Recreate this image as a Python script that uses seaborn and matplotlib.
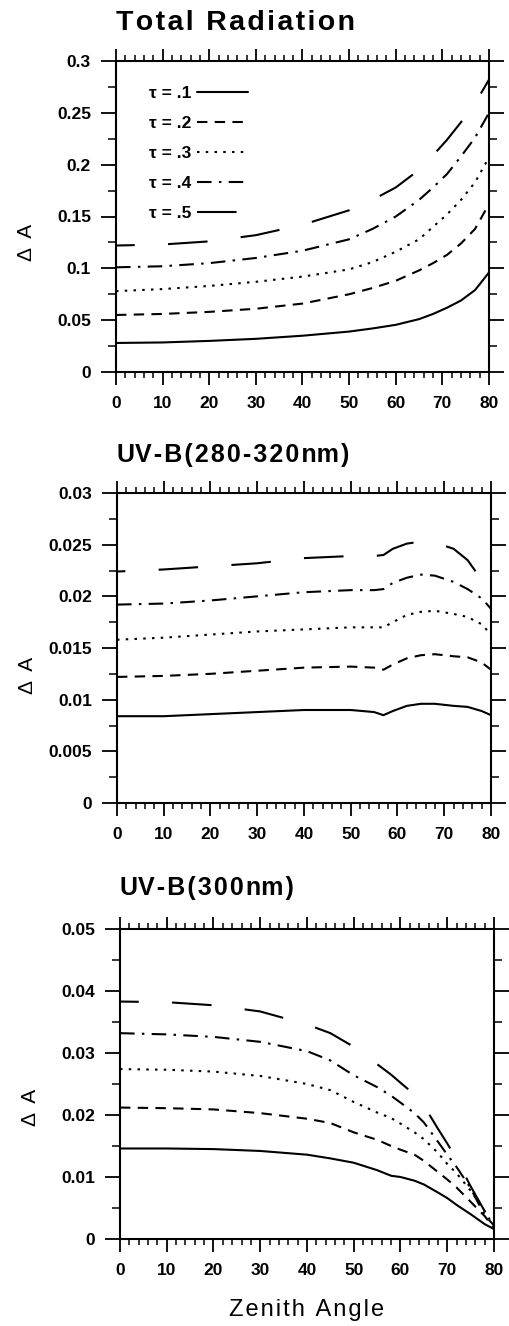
import matplotlib
matplotlib.use("Agg")
import matplotlib.pyplot as plt
import numpy as np
import pandas as pd
import seaborn as sns
from matplotlib.ticker import MultipleLocator

# ---------------- data ----------------
tau_labels = ["τ=.1", "τ=.2", "τ=.3", "τ=.4", "τ=.5"]

# Total Radiation
total_x = [0, 10, 20, 30, 40, 50, 55, 60, 65, 68, 71, 74, 77, 80]
total_t1 = [0.028, 0.0285, 0.030, 0.032, 0.035, 0.039, 0.042, 0.0455, 0.051, 0.056, 0.062, 0.069, 0.079, 0.096]
total_t2 = [0.055, 0.056, 0.058, 0.061, 0.066, 0.075, 0.081, 0.088, 0.098, 0.105, 0.113, 0.124, 0.138, 0.162]
total_t3 = [0.078, 0.080, 0.083, 0.087, 0.092, 0.099, 0.106, 0.116, 0.128, 0.140, 0.152, 0.166, 0.183, 0.207]
total_t4 = [0.101, 0.102, 0.105, 0.110, 0.117, 0.128, 0.138, 0.150, 0.166, 0.178, 0.191, 0.208, 0.226, 0.250]
total_t5 = [0.122, 0.123, 0.126, 0.132, 0.142, 0.156, 0.166, 0.178, 0.195, 0.209, 0.224, 0.241, 0.259, 0.282]

# UV-B (280-320nm)
uvb_x = [0, 10, 20, 30, 40, 50, 55, 57, 59, 62, 65, 68, 72, 75, 78, 80]
uvb_t1 = [0.0084, 0.0084, 0.0086, 0.0088, 0.0090, 0.0090, 0.0088, 0.0085, 0.0089, 0.0094, 0.0096, 0.0096, 0.0094, 0.0093, 0.0089, 0.0085]
uvb_t2 = [0.0122, 0.0123, 0.0125, 0.0128, 0.0131, 0.0132, 0.0131, 0.0129, 0.0134, 0.0140, 0.0143, 0.0144, 0.0142, 0.0141, 0.0136, 0.0129]
uvb_t3 = [0.0158, 0.0160, 0.0163, 0.0166, 0.0168, 0.0170, 0.0170, 0.0170, 0.0175, 0.0182, 0.0185, 0.0186, 0.0183, 0.0180, 0.0173, 0.0163]
uvb_t4 = [0.0192, 0.0193, 0.0196, 0.0200, 0.0204, 0.0206, 0.0206, 0.0207, 0.0213, 0.0218, 0.0221, 0.0220, 0.0214, 0.0207, 0.0198, 0.0188]
uvb_t5 = [0.0224, 0.0226, 0.0229, 0.0232, 0.0237, 0.0239, 0.0239, 0.0240, 0.0246, 0.0251, 0.0253, 0.0252, 0.0246, 0.0235, 0.0216, 0.0203]

# UV-B (300nm)
uv300_x = [0, 10, 20, 30, 40, 45, 50, 55, 58, 60, 63, 65, 68, 70, 72, 75, 78, 80]
uv300_t1 = [0.0146, 0.0146, 0.0145, 0.0142, 0.0136, 0.0130, 0.0123, 0.0111, 0.0102, 0.0100, 0.0094, 0.0088, 0.0075, 0.0066, 0.0055, 0.0040, 0.0024, 0.0016]
uv300_t2 = [0.0212, 0.0211, 0.0209, 0.0203, 0.0194, 0.0187, 0.0172, 0.0160, 0.0150, 0.0144, 0.0136, 0.0126, 0.0108, 0.0096, 0.0083, 0.0060, 0.0037, 0.0018]
uv300_t3 = [0.0274, 0.0273, 0.0270, 0.0263, 0.0250, 0.0240, 0.0221, 0.0204, 0.0195, 0.0186, 0.0172, 0.0161, 0.0139, 0.0121, 0.0106, 0.0078, 0.0045, 0.0020]
uv300_t4 = [0.0332, 0.0330, 0.0326, 0.0318, 0.0303, 0.0288, 0.0264, 0.0245, 0.0231, 0.0220, 0.0203, 0.0188, 0.0157, 0.0136, 0.0116, 0.0082, 0.0038, 0.0022]
uv300_t5 = [0.0383, 0.0382, 0.0377, 0.0367, 0.0346, 0.0332, 0.0310, 0.0282, 0.0265, 0.0252, 0.0233, 0.0215, 0.0178, 0.0154, 0.0129, 0.0085, 0.0045, 0.0019]

titles = ["Total Radiation", "UV-B(280-320nm)", "UV-B(300nm)"]
x_ticks = [0, 10, 20, 30, 40, 50, 60, 70, 80]
x_tick_labels = ["0", "10", "20", "30", "40", "50", "60", "70", "80"]
total_yticks = [0, 0.05, 0.1, 0.15, 0.2, 0.25, 0.3]
total_ylabels = ["0", "0.05", "0.1", "0.15", "0.2", "0.25", "0.3"]
uvb_yticks = [0, 0.005, 0.01, 0.015, 0.02, 0.025, 0.03]
uvb_ylabels = ["0", "0.005", "0.01", "0.015", "0.02", "0.025", "0.03"]
uv300_yticks = [0, 0.01, 0.02, 0.03, 0.04, 0.05]
uv300_ylabels = ["0", "0.01", "0.02", "0.03", "0.04", "0.05"]
y_label = "Δ  A"
x_label = "Zenith Angle"

# ---------------- style ----------------
sns.set_style("ticks")
plt.rcParams["font.family"] = ["Liberation Sans", "DejaVu Sans"]
plt.rcParams["axes.linewidth"] = 1.5
for key in ["text.color", "axes.labelcolor", "xtick.color", "ytick.color", "axes.edgecolor"]:
    plt.rcParams[key] = "black"

HS = "\u200a"  # hair space for letter spacing


def spaced(s, keep=()):
    out = ""
    for j, ch in enumerate(s):
        out += ch
        if j < len(s) - 1:
            pair = s[j:j + 2]
            if pair not in keep:
                out += HS
    return out


def build(x, series):
    frames = []
    for lab, ys in zip(tau_labels, series):
        frames.append(pd.DataFrame({"angle": x, "dA": ys, "tau": lab}))
    return pd.concat(frames, ignore_index=True)


panels = [
    (build(total_x, [total_t1, total_t2, total_t3, total_t4, total_t5]), total_yticks, total_ylabels, 0.025),
    (build(uvb_x, [uvb_t1, uvb_t2, uvb_t3, uvb_t4, uvb_t5]), uvb_yticks, uvb_ylabels, 0.0025),
    (build(uv300_x, [uv300_t1, uv300_t2, uv300_t3, uv300_t4, uv300_t5]), uv300_yticks, uv300_ylabels, 0.005),
]

dash_map = {
    "τ=.1": "",
    "τ=.2": (5, 3.5),
    "τ=.3": (1.2, 3),
    "τ=.4": (7, 3.5, 1.2, 3.5),
    "τ=.5": (19, 16),
}
long_dash_offsets = [10, 15, 10]

W, H = 510, 1326
boxes = [(116, 489, 61, 372), (117, 491, 493, 803), (120, 494, 929, 1239)]
title_pads = [22.3, 22.5, 24.5]
title_sizes = [20.5, 18, 18]
ylabel_y = [0.415, 0.411, 0.426]

fig = plt.figure(figsize=(W / 100, H / 100), dpi=100)
LW = 1.5

for i, (df, yt, yl, ymin) in enumerate(panels):
    l, r, t, b = boxes[i]
    ax = fig.add_axes([l / W, 1 - b / H, (r - l) / W, (b - t) / H])
    sns.lineplot(data=df, x="angle", y="dA", style="tau", style_order=tau_labels,
                 dashes=dash_map, color="black", linewidth=LW, ax=ax,
                 legend=(i == 0), errorbar=None, sort=True)
    data_lines = [ln for ln in ax.lines if len(ln.get_xdata()) > 0]
    if len(data_lines) == len(tau_labels):
        data_lines[4].set_linestyle((long_dash_offsets[i], dash_map["τ=.5"]))
    ax.set_xlim(0, 80)
    ax.set_ylim(yt[0], yt[-1])
    ax.set_xticks(x_ticks, labels=x_tick_labels)
    ax.set_yticks(yt, labels=yl)
    ax.xaxis.set_minor_locator(MultipleLocator(2))
    ax.yaxis.set_minor_locator(MultipleLocator(ymin))
    ax.tick_params(axis="x", which="major", direction="out", length=9, width=1.3,
                   top=True, bottom=True, pad=8, labelsize=12.5, colors="black")
    ax.tick_params(axis="x", which="minor", direction="out", length=4.5, width=1.1,
                   top=True, bottom=True, colors="black")
    ax.tick_params(axis="y", which="major", direction="out", length=11, width=1.3,
                   left=True, right=True, pad=7, labelsize=12.5, colors="black")
    ax.tick_params(axis="y", which="minor", direction="out", length=6, width=1.1,
                   left=True, right=True, colors="black")
    for lab in ax.get_xticklabels() + ax.get_yticklabels():
        lab.set_fontweight("bold")
    for s in ax.spines.values():
        s.set_visible(True)
        s.set_linewidth(1.5)
        s.set_color("black")
    ax.set_title(spaced(titles[i], keep=("UV", "nm")), loc="left", pad=title_pads[i],
                 fontsize=title_sizes[i], fontweight="bold", color="black")
    ax.set_ylabel(y_label, fontsize=15, color="black")
    ax.yaxis.set_label_coords(-0.215, ylabel_y[i])
    if i == 2:
        ax.set_xlabel(spaced(x_label), fontsize=17, color="black")
        ax.xaxis.set_label_coords(0.5, -0.195)
    else:
        ax.set_xlabel("")

    if i == 0:
        old = ax.get_legend()
        handles = list(old.legend_handles)
        labels = [tx.get_text() for tx in old.get_texts()]
        old.remove()
        for h in handles:
            h.set_color("black")
            h.set_linewidth(LW)
        leg = ax.legend(handles, [s.replace("=", " = ") for s in labels],
                        loc="upper left", bbox_to_anchor=(0.088, 0.92),
                        frameon=False, markerfirst=False,
                        handlelength=2.9, handletextpad=0.35, labelspacing=0.85,
                        borderaxespad=0, borderpad=0,
                        prop={"weight": "bold", "size": 12.5})
        for tx in leg.get_texts():
            tx.set_color("black")

fig.savefig("out.png", dpi=100)
